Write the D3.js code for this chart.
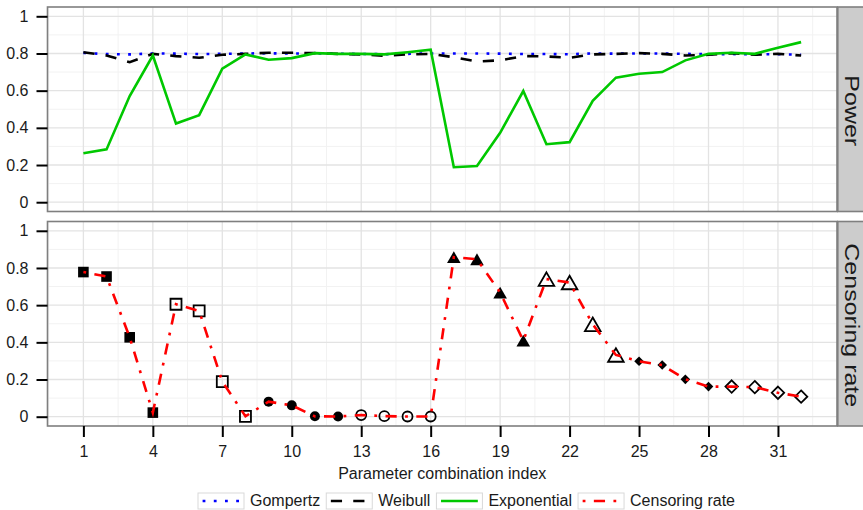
<!DOCTYPE html>
<html>
<head>
<meta charset="utf-8">
<title>power and censoring rate</title>
<script src="https://d3js.org/d3.v7.min.js"></script>
<style>
	body { margin: 0; background: #fff; }
	text { font-family: "Liberation Sans", Arial, Helvetica, sans-serif; fill: #1a1a1a; }
</style>
</head>
<body>
<svg width="863" height="510"></svg>
<script type="text/javascript">
	// parameter combination index 1..32
	let combo = [1,2,3,4,5,6,7,8,9,10,11,12,13,14,15,16,17,18,19,20,21,22,23,24,25,26,27,28,29,30,31,32];
	let gompertz = [0.803,0.797,0.795,0.800,0.799,0.797,0.798,0.800,0.801,0.800,0.800,0.799,0.797,0.796,0.798,0.800,
	                0.800,0.800,0.799,0.797,0.797,0.796,0.800,0.799,0.800,0.800,0.798,0.796,0.797,0.795,0.796,0.793];
	let weibull = [0.807,0.789,0.753,0.798,0.786,0.777,0.793,0.798,0.804,0.804,0.802,0.798,0.795,0.788,0.795,0.798,
	               0.780,0.757,0.763,0.786,0.784,0.777,0.795,0.798,0.802,0.798,0.789,0.793,0.802,0.793,0.798,0.789];
	let exponential = [0.263,0.284,0.571,0.789,0.423,0.468,0.718,0.795,0.766,0.775,0.802,0.798,0.798,0.795,0.807,0.820,
	                   0.188,0.195,0.373,0.598,0.312,0.323,0.545,0.670,0.691,0.700,0.763,0.798,0.804,0.798,0.831,0.861];
	let censoring = [0.778,0.754,0.427,0.022,0.605,0.569,0.189,0.002,0.081,0.061,0.002,0.001,0.009,0.003,0.001,0.001,
	                 0.858,0.847,0.668,0.409,0.740,0.722,0.497,0.332,0.298,0.278,0.201,0.162,0.162,0.159,0.129,0.108];
	// marker for each block of four combinations
	let shapeOrder = ["square-f","square-o","circle-f","circle-o","triangle-f","triangle-o","diamond-f","diamond-o"];
	let xBreaks = [1,4,7,10,13,16,19,22,25,28,31];
	let yBreaks = [0,0.2,0.4,0.6,0.8,1];
	let yMinor = [0.1,0.3,0.5,0.7,0.9];
	let panelNames = ["Power","Censoring rate"];
	let legendNames = ["Gompertz","Weibull","Exponential","Censoring rate"];

	let svg = d3.select("svg");
	let lw = 2.8;
	let seriesStyle = [
		{ color: "#0000ff", dash: [1,3].map(d => d * lw).join(",") },
		{ color: "#000000", dash: [4,4].map(d => d * lw).join(",") },
		{ color: "#00c800", dash: null },
		{ color: "#ff0000", dash: [1,3,4,3].map(d => d * lw).join(",") }
	];

	let left = 47.5, right = 837;
	let x = d3.scaleLinear().domain([-0.55, 33.55]).range([left, right]);
	let xMinor = xBreaks.map(d => d - 1.5).concat([xBreaks[xBreaks.length - 1] + 1.5]);
	let panelBox = [[7, 211.5], [221.5, 426]];

	function markerPath(shape)
	{
		let p = d3.path();
		let kind = shape.split("-")[0], filled = shape.endsWith("-f");
		if(kind == "square") { let s = filled ? 5.3 : 5.5; p.rect(-s, -s, 2 * s, 2 * s); }
		if(kind == "circle") { p.arc(0, 0, 5, 0, 2 * Math.PI); p.closePath(); }
		if(kind == "triangle") {
			let w = filled ? 6.8 : 7.8, h = w * 1.732 / 2;
			p.moveTo(0, -h); p.lineTo(w, h); p.lineTo(-w, h); p.closePath();
		}
		if(kind == "diamond") {
			let s = filled ? 4.8 : 6.2;
			p.moveTo(0, -s); p.lineTo(s, 0); p.lineTo(0, s); p.lineTo(-s, 0); p.closePath();
		}
		return p.toString();
	}

	function draw_panel(k)
	{
		let top = panelBox[k][0], bottom = panelBox[k][1];
		let y = d3.scaleLinear().domain([-0.05, 1.05]).range([bottom, top]);
		let g = svg.append("g");
		g.append("rect").attr("x", left).attr("y", top).attr("width", right - left).attr("height", bottom - top)
			.attr("fill", "#fff");
		// grid
		g.selectAll(".hminor").data(yMinor).join("line")
			.attr("x1", left).attr("x2", right).attr("y1", d => y(d)).attr("y2", d => y(d))
			.attr("stroke", "#f2f2f2").attr("stroke-width", 1);
		g.selectAll(".vminor").data(xMinor).join("line")
			.attr("y1", top).attr("y2", bottom).attr("x1", d => x(d)).attr("x2", d => x(d))
			.attr("stroke", "#f2f2f2").attr("stroke-width", 1);
		g.selectAll(".hmajor").data(yBreaks).join("line")
			.attr("x1", left).attr("x2", right).attr("y1", d => y(d)).attr("y2", d => y(d))
			.attr("stroke", "#e3e3e3").attr("stroke-width", 1.3);
		g.selectAll(".vmajor").data(xBreaks).join("line")
			.attr("y1", top).attr("y2", bottom).attr("x1", d => x(d)).attr("x2", d => x(d))
			.attr("stroke", "#e3e3e3").attr("stroke-width", 1.3);

		let line = d3.line().x((d, i) => x(combo[i])).y(d => y(d));
		if(k == 0)
		{
			[gompertz, weibull, exponential].forEach(function(series, s) {
				g.append("path").datum(series)
					.attr("fill", "none")
					.attr("stroke", seriesStyle[s].color)
					.attr("stroke-width", 2.6)
					.attr("stroke-dasharray", seriesStyle[s].dash)
					.attr("d", line);
			});
		}
		else
		{
			g.selectAll(".pt").data(censoring).join("path")
				.attr("transform", (d, i) => "translate(" + x(combo[i]) + "," + y(d) + ")")
				.attr("d", (d, i) => markerPath(shapeOrder[Math.floor(i / 4)]))
				.attr("fill", (d, i) => shapeOrder[Math.floor(i / 4)].endsWith("-f") ? "#000" : "none")
				.attr("stroke", (d, i) => shapeOrder[Math.floor(i / 4)].endsWith("-f") ? "none" : "#000")
				.attr("stroke-width", 1.8);
			g.append("path").datum(censoring)
				.attr("fill", "none")
				.attr("stroke", seriesStyle[3].color)
				.attr("stroke-width", 2.6)
				.attr("stroke-dasharray", seriesStyle[3].dash)
				.attr("d", line);
		}
		g.append("rect").attr("x", left).attr("y", top).attr("width", right - left).attr("height", bottom - top)
			.attr("fill", "none").attr("stroke", "#7f7f7f").attr("stroke-width", 1.6);

		// strip
		g.append("rect").attr("x", right + 0.8).attr("y", top).attr("width", 40).attr("height", bottom - top)
			.attr("fill", "#cccccc").attr("stroke", "#7f7f7f").attr("stroke-width", 1.6);
		g.append("text")
			.attr("transform", "translate(845," + ((top + bottom) / 2 + 1.5) + ") rotate(90) scale(1,0.8)")
			.attr("text-anchor", "middle").style("font-size", "25px")
			.text(panelNames[k]);

		// y axis
		let ya = svg.append("g").attr("transform", "translate(" + left + ",0)")
			.call(d3.axisLeft(y).tickValues(yBreaks).tickSize(11).tickPadding(8)
				.tickFormat(d => String(+d.toFixed(1))));
		ya.select(".domain").remove();
		ya.selectAll("line").attr("stroke", "#000").attr("stroke-width", 2);
		ya.selectAll("text").style("font-size", "16px").attr("fill", "#1a1a1a");

		if(k == 1)
		{
			let xa = svg.append("g").attr("transform", "translate(0," + bottom + ")")
				.call(d3.axisBottom(x).tickValues(xBreaks).tickSize(11).tickPadding(9));
			xa.select(".domain").remove();
			xa.selectAll("line").attr("stroke", "#000").attr("stroke-width", 2);
			xa.selectAll("text").style("font-size", "16px").attr("fill", "#1a1a1a");
		}
	}

	draw_panel(0);
	draw_panel(1);

	svg.append("text").attr("x", (left + right) / 2).attr("y", 479)
		.attr("text-anchor", "middle").style("font-size", "16px")
		.text("Parameter combination index");

	// legend
	let lx = 198;
	legendNames.forEach(function(name, i) {
		let lg = svg.append("g");
		lg.append("rect").attr("x", lx).attr("y", 493).attr("width", 46).attr("height", 16)
			.attr("fill", "#fff").attr("stroke", "#d9d9d9").attr("stroke-width", 1);
		lg.append("line").attr("x1", lx + 4.6).attr("x2", lx + 41.4).attr("y1", 501).attr("y2", 501)
			.attr("stroke", seriesStyle[i].color).attr("stroke-width", 2.6)
			.attr("stroke-dasharray", seriesStyle[i].dash);
		let t = lg.append("text").attr("x", lx + 52).attr("y", 506).style("font-size", "16px").text(name);
		lx += 52 + t.node().getComputedTextLength() + 6;
	});
</script>
</body>
</html>
